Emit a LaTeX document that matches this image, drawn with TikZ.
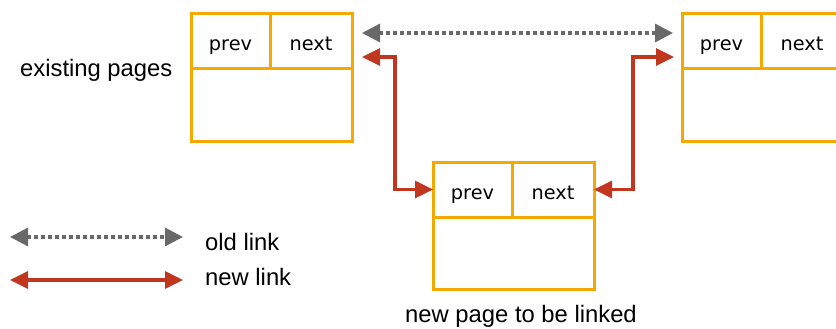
\documentclass[tikz,border=0pt]{standalone}
\usepackage{fontspec}
\setmainfont{Liberation Sans}
\newfontfamily\cellfont{DejaVu Sans}
\usetikzlibrary{arrows.meta, positioning}
\definecolor{pageorange}{RGB}{245,168,0}
\definecolor{linkred}{RGB}{192,54,30}
\definecolor{linkgray}{RGB}{105,105,105}
\tikzset{%
	page cell/.style={
		draw=pageorange,
		line width=3pt,
		outer sep=0pt,
		inner sep=0pt,
		minimum height=55pt,
		text height=19pt,
		text depth=0pt,
		font=\cellfont\fontsize{19.3}{22}\selectfont
	},
	prev cell/.style={page cell, minimum width=79pt},
	next cell/.style={page cell, minimum width=82pt},
	page body/.style={
		draw=pageorange,
		line width=3pt,
		outer sep=0pt,
		minimum width=161pt,
		minimum height=72pt
	},
	old link/.style={
		linkgray,
		line width=3.2pt,
		dash pattern=on 4pt off 3pt,
		{Triangle[length=18pt,width=18pt]}-{Triangle[length=18pt,width=18pt]}
	},
	new link/.style={
		linkred,
		line width=3.2pt,
		{Triangle[length=18pt,width=17pt]}-{Triangle[length=18pt,width=17pt]}
	},
	label text/.style={
		inner sep=0pt,
		font=\fontsize{23.8}{28}\selectfont
	},
}

\begin{document}
\begin{tikzpicture}[x=1pt, y=-1pt]
		\useasboundingbox (0,0) rectangle (836,329);
		
		% Draw the existing pages
		\node[prev cell, anchor=north west] (Lprev) at (191,14) {prev};
		\node[next cell, right=0pt of Lprev] (Lnext) {next};
		\node[page body, anchor=north west] (Lbody) at (Lprev.south west) {};
		\node[label text, anchor=base west] (existing) at (20,77) {existing pages};
		
		\node[prev cell, anchor=north west] (Rprev) at (682,14) {prev};
		\node[next cell, right=0pt of Rprev] (Rnext) {next};
		\node[page body, anchor=north west] (Rbody) at (Rprev.south west) {};
		
		% Draw the new page
		\node[prev cell, anchor=north west] (Mprev) at (433,162) {prev};
		\node[next cell, right=0pt of Mprev] (Mnext) {next};
		\node[page body, anchor=north west] (Mbody) at (Mprev.south west) {};
		\node[label text, anchor=base] (newpage) at (521,322) {new page to be linked};
		
		% Draw the links
		\draw[old link] ([shift={(10pt,8.5pt)}]Lnext.east) -- ([shift={(-9pt,8.5pt)}]Rprev.west);
		\draw[new link] ([shift={(10pt,-15.5pt)}]Lnext.east) -- ++(33,0) |- (Mprev.west);
		\draw[new link] (Mnext.east) -- ++(39,0) |- ([shift={(-8pt,-15.5pt)}]Rprev.west);
		
		% Draw the legend
		\coordinate (old a) at (10,237);
		\coordinate (old b) at (183,237);
		\draw[old link] (old a) -- (old b);
		\node[label text, anchor=base west] (old text) at (205,250) {old link};
		
		\coordinate (new a) at (10,280);
		\coordinate (new b) at (183,280);
		\draw[new link] (new a) -- (new b);
		\node[label text, anchor=base west] (new text) at (205,285) {new link};
	\end{tikzpicture}
\end{document}
